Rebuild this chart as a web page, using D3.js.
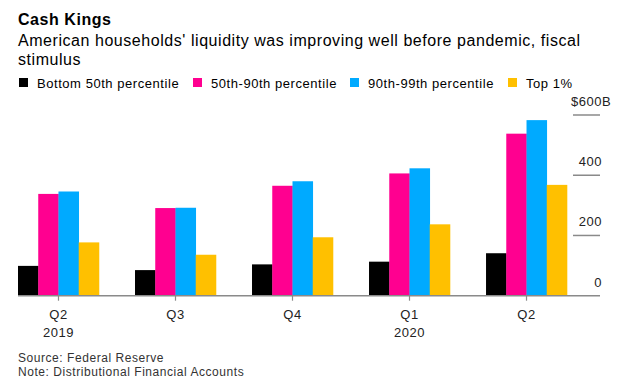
<!DOCTYPE html>
<html>
<head>
<meta charset="utf-8">
<script src="https://cdn.jsdelivr.net/npm/d3@7"></script>
<style>
  body { margin: 0; background: #fff; }
  svg { display: block; font-family: 'Liberation Sans', Arial, sans-serif; letter-spacing: 0.55px; }
</style>
</head>
<body>
<svg id="chart"></svg>
<script>
// data (billions of dollars)
var quarters = ['Q2 2019', 'Q3', 'Q4', 'Q1 2020', 'Q2b'];
var quarterLabels = [['Q2', '2019'], ['Q3'], ['Q4'], ['Q1', '2020'], ['Q2']];
var seriesNames = ['Bottom 50th percentile', '50th-90th percentile', '90th-99th percentile', 'Top 1%'];
var bottom50 = [99, 85, 104, 113, 141];
var p50to90 = [338, 291, 365, 406, 538];
var p90to99 = [346, 292, 380, 423, 583];
var top1 = [177, 136, 194, 237, 368];
var yTicks = [0, 200, 400, 600];

var colors = ['#000000', '#ff0090', '#00aaff', '#ffc000'];
var seriesValues = [bottom50, p50to90, p90to99, top1];

var width = 630, height = 387;
var svg = d3.select('#chart').attr('width', width).attr('height', height);

// titles
svg.append('text')
  .attr('x', 18).attr('y', 25)
  .style('font-size', '16px').style('font-weight', 'bold')
  .text('Cash Kings');

svg.append('text')
  .attr('x', 18).attr('y', 46)
  .style('font-size', '16px')
  .text("American households' liquidity was improving well before pandemic, fiscal");
svg.append('text')
  .attr('x', 18).attr('y', 65)
  .style('font-size', '16px')
  .text('stimulus');

// legend
var legendX = [19, 193, 350, 508];
var legend = svg.selectAll('.legend')
  .data(seriesNames)
  .enter()
  .append('g')
    .attr('class', 'legend')
    .attr('transform', (d, i) => `translate(${legendX[i]}, 0)`);
legend.append('rect')
  .attr('x', 0).attr('y', 78)
  .attr('width', 9).attr('height', 9)
  .attr('fill', (d, i) => colors[i]);
legend.append('text')
  .attr('x', 18).attr('y', 88)
  .style('font-size', '13px')
  .text(d => d);

// scales
var xScale = d3.scaleBand()
  .domain(quarters)
  .range([18, 567])
  .paddingInner(0.308)
  .paddingOuter(0);

var xInner = d3.scaleBand()
  .domain(d3.range(seriesNames.length))
  .range([0, xScale.bandwidth()]);

var yScale = d3.scaleLinear()
  .domain([0, 600])
  .range([295.7, 115]);

// right y axis: short tick lines with labels above
var yAxis = svg.append('g').attr('class', 'y-axis');
yAxis.selectAll('line')
  .data(yTicks.filter(d => d > 0))
  .enter()
  .append('line')
    .attr('x1', 573).attr('x2', 600)
    .attr('y1', d => yScale(d)).attr('y2', d => yScale(d))
    .attr('stroke', '#8a8a8a')
    .attr('stroke-width', 1.5);

yAxis.selectAll('text')
  .data(yTicks)
  .enter()
  .append('text')
    .attr('x', 602)
    .attr('y', d => yScale(d) - 9)
    .style('font-size', '13px')
    .style('text-anchor', 'end')
    .attr('fill', '#222')
    .text(d => d);

// top label gets the $ and B hanging outside the number
var topLabel = yAxis.selectAll('text').filter(d => d === 600);
var numW = topLabel.node().getComputedTextLength();
yAxis.append('text')
  .attr('x', 602 - numW)
  .attr('y', yScale(600) - 9)
  .style('font-size', '13px')
  .style('text-anchor', 'end')
  .attr('fill', '#222')
  .text('$');
yAxis.append('text')
  .attr('x', 602)
  .attr('y', yScale(600) - 9)
  .style('font-size', '13px')
  .attr('fill', '#222')
  .text('B');

// bars
var groups = svg.selectAll('.group')
  .data(quarters)
  .enter()
  .append('g')
    .attr('class', 'group')
    .attr('transform', d => `translate(${xScale(d)}, 0)`);

groups.selectAll('rect')
  .data((q, qi) => seriesValues.map((vals, si) => ({ s: si, value: vals[qi] })))
  .enter()
  .append('rect')
    .attr('x', d => xInner(d.s))
    .attr('width', xInner.bandwidth() + 0.3)
    .attr('y', d => yScale(d.value))
    .attr('height', d => yScale(0) - yScale(d.value))
    .attr('fill', d => colors[d.s]);

// baseline and x ticks
svg.append('line')
  .attr('x1', 18).attr('x2', 600)
  .attr('y1', yScale(0)).attr('y2', yScale(0))
  .attr('stroke', '#8a8a8a')
  .attr('stroke-width', 1.5);

var xAxis = svg.selectAll('.x-tick')
  .data(quarters)
  .enter()
  .append('g')
    .attr('class', 'x-tick')
    .attr('transform', d => `translate(${xScale(d) + xScale.bandwidth() / 2}, 0)`);
xAxis.append('line')
  .attr('y1', yScale(0)).attr('y2', yScale(0) + 5)
  .attr('stroke', '#8a8a8a')
  .attr('stroke-width', 1.2);
xAxis.each(function(d, i) {
  var g = d3.select(this);
  quarterLabels[i].forEach((line, li) => {
    g.append('text')
      .attr('y', 319 + li * 18)
      .style('font-size', '13px')
      .style('text-anchor', 'middle')
      .attr('fill', '#222')
      .text(line);
  });
});

// footer
svg.append('text')
  .attr('x', 18).attr('y', 362)
  .style('font-size', '12px')
  .attr('fill', '#333')
  .text('Source: Federal Reserve');
svg.append('text')
  .attr('x', 18).attr('y', 376)
  .style('font-size', '12px')
  .attr('fill', '#333')
  .text('Note: Distributional Financial Accounts');
</script>
</body>
</html>
